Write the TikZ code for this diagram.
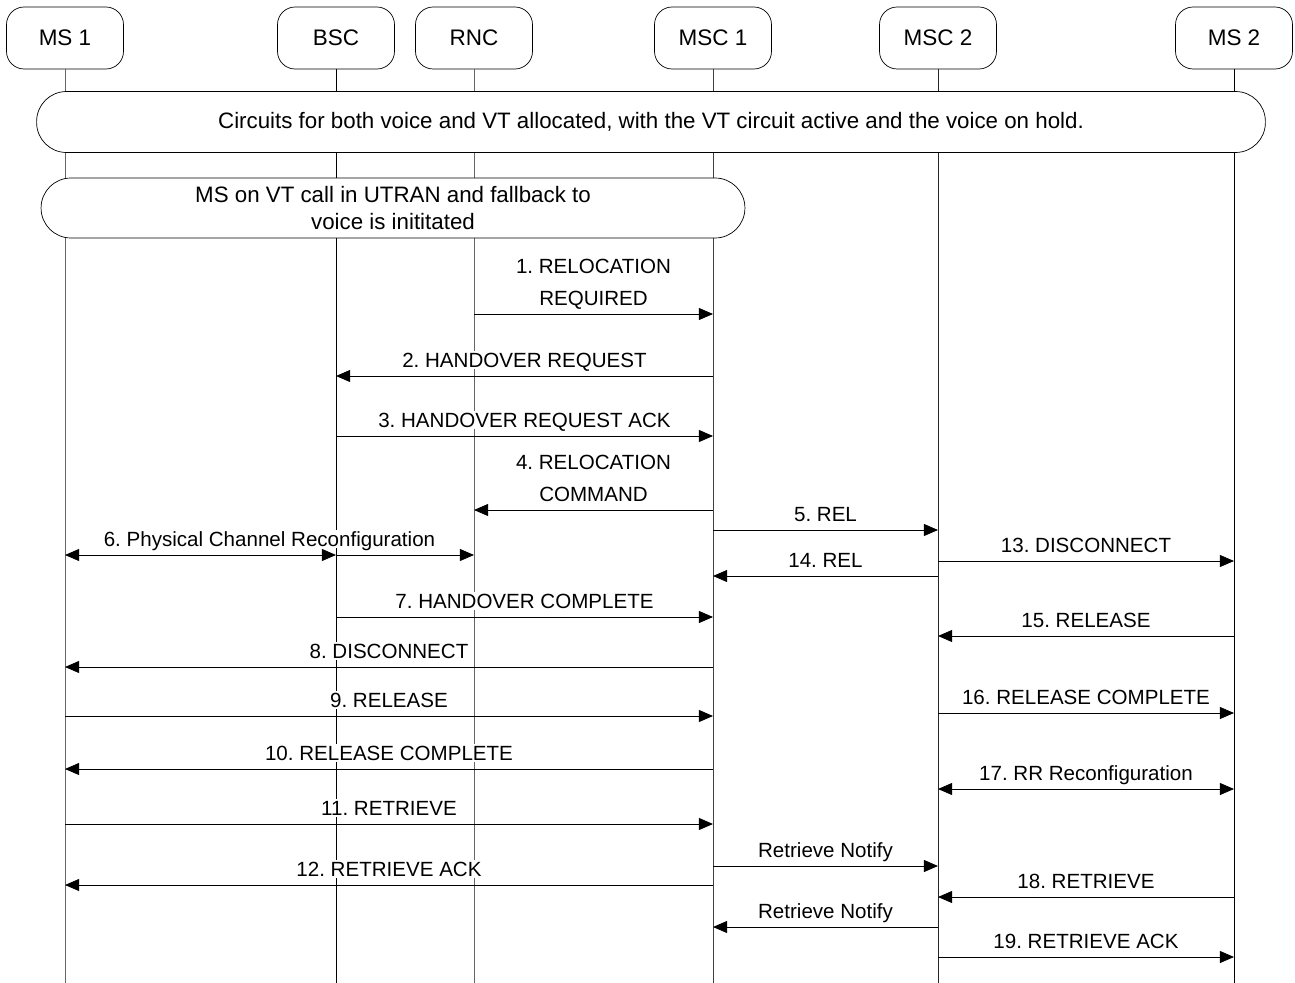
\documentclass[tikz,border=0pt]{standalone}
\usepackage{fontspec}
\setmainfont{Liberation Sans}
\usetikzlibrary{arrows.meta}
\frenchspacing

\begin{document}
\begin{tikzpicture}[x=0.02cm,y=-0.02cm,
  font=\fontsize{11.7}{18}\selectfont,
  head/.style={draw,fill=white,rounded corners=10pt,minimum width=2.34cm,minimum height=1.24cm,font=\fontsize{12.8}{15}\selectfont},
  band/.style={draw,fill=white,rounded corners=17pt,align=center,font=\fontsize{12.7}{15.3}\selectfont},
  life/.style={line width=0.5pt},
  msg/.style={-{Triangle[length=8pt,width=6.8pt]},line width=0.5pt},
  dmsg/.style={{Triangle[length=8pt,width=6.8pt]}-{Triangle[length=8pt,width=6.8pt]},line width=0.5pt},
  lbl/.style={fill=white,inner sep=1pt,text depth=0pt,align=center}]
\useasboundingbox (0,0) rectangle (1295,983);
\foreach \n/\x/\t/\c in {ms1/65/MS 1/black!60,bsc/336/BSC/black,rnc/474/RNC/black!60,msc1/713/MSC 1/black!75,msc2/938/MSC 2/black!85,ms2/1234/MS 2/black}{
  \node[head] (\n) at (\x,38) {\t};
  \coordinate (\n-end) at (\x,983);
  \draw[life,\c] (\n) -- (\n-end);
}
\node[band,minimum width=24.58cm,minimum height=1.22cm] (hold) at (651,122)
  {Circuits for both voice and VT allocated, with the VT circuit active and the voice on hold.};
\node[band,minimum width=14.08cm,minimum height=1.2cm] (fallback) at (393,208)
  {MS on VT call in UTRAN and fallback to\\voice is inititated};

\draw[msg] (rnc |- 0,314) -- (msc1 |- 0,314) node[lbl,midway,above=3.8pt] {1. RELOCATION\\REQUIRED};
\draw[msg] (msc1 |- 0,376) -- (bsc |- 0,376) node[lbl,midway,above=3.8pt] {2. HANDOVER REQUEST};
\draw[msg] (bsc |- 0,436) -- (msc1 |- 0,436) node[lbl,midway,above=3.8pt] {3. HANDOVER REQUEST ACK};
\draw[msg] (msc1 |- 0,510) -- (rnc |- 0,510) node[lbl,midway,above=3.8pt] {4. RELOCATION\\COMMAND};
\draw[msg] (msc1 |- 0,530) -- (msc2 |- 0,530) node[lbl,midway,above=3.8pt] {5. REL};
\draw[dmsg] (ms1 |- 0,555) -- (bsc |- 0,555);
\draw[msg] (bsc |- 0,555) -- (rnc |- 0,555);
\path (ms1 |- 0,555) -- (rnc |- 0,555) node[lbl,midway,above=3.8pt] {6. Physical Channel Reconfiguration};
\draw[msg] (msc2 |- 0,561) -- (ms2 |- 0,561) node[lbl,midway,above=3.8pt] {13. DISCONNECT};
\draw[msg] (msc2 |- 0,576) -- (msc1 |- 0,576) node[lbl,midway,above=3.8pt] {14. REL};
\draw[msg] (bsc |- 0,617) -- (msc1 |- 0,617) node[lbl,midway,above=3.8pt] {7. HANDOVER COMPLETE};
\draw[msg] (ms2 |- 0,636) -- (msc2 |- 0,636) node[lbl,midway,above=3.8pt] {15. RELEASE};
\draw[msg] (msc1 |- 0,667) -- (ms1 |- 0,667) node[lbl,midway,above=3.8pt] {8. DISCONNECT};
\draw[msg] (ms1 |- 0,716) -- (msc1 |- 0,716) node[lbl,midway,above=3.8pt] {9. RELEASE};
\draw[msg] (msc2 |- 0,713) -- (ms2 |- 0,713) node[lbl,midway,above=3.8pt] {16. RELEASE COMPLETE};
\draw[msg] (msc1 |- 0,769) -- (ms1 |- 0,769) node[lbl,midway,above=3.8pt] {10. RELEASE COMPLETE};
\draw[dmsg] (msc2 |- 0,789) -- (ms2 |- 0,789) node[lbl,midway,above=3.8pt] {17. RR Reconfiguration};
\draw[msg] (ms1 |- 0,824) -- (msc1 |- 0,824) node[lbl,midway,above=3.8pt] {11. RETRIEVE};
\draw[msg] (msc1 |- 0,866) -- (msc2 |- 0,866) node[lbl,midway,above=3.8pt] {Retrieve Notify};
\draw[msg] (msc1 |- 0,885) -- (ms1 |- 0,885) node[lbl,midway,above=3.8pt] {12. RETRIEVE ACK};
\draw[msg] (ms2 |- 0,897) -- (msc2 |- 0,897) node[lbl,midway,above=3.8pt] {18. RETRIEVE};
\draw[msg] (msc2 |- 0,927) -- (msc1 |- 0,927) node[lbl,midway,above=3.8pt] {Retrieve Notify};
\draw[msg] (msc2 |- 0,957) -- (ms2 |- 0,957) node[lbl,midway,above=3.8pt] {19. RETRIEVE ACK};
\end{tikzpicture}
\end{document}
